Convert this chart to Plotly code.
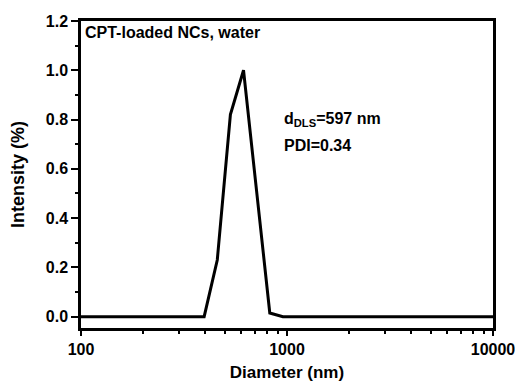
import plotly.graph_objects as go

diameter_nm = [100, 342.0, 396.1, 458.7, 531.2, 615.1, 712.4, 825.0, 955.4, 1106, 2000, 5000, 10000]
intensity = [0.0, 0.0, 0.0, 0.23, 0.82, 1.0, 0.51, 0.015, 0.0, 0.0, 0.0, 0.0, 0.0]

y_ticks = [0.0, 0.2, 0.4, 0.6, 0.8, 1.0, 1.2]
x_ticks = [100, 1000, 10000]

FONT = "Liberation Sans, Arial, sans-serif"

fig = go.Figure()
fig.add_trace(go.Scatter(x=diameter_nm, y=intensity, mode="lines",
                         line=dict(color="black", width=3), showlegend=False))

# page body has an 8px default margin, so the figure is sized/offset to compensate
fig.update_layout(
    width=515, height=378,
    margin=dict(l=73, r=30, t=13, b=58, autoexpand=False),
    plot_bgcolor="white", paper_bgcolor="white",
    font=dict(family=FONT, color="black"),
    xaxis=dict(type="log", range=[2, 4], tickvals=x_ticks,
               ticktext=[f"<b>{v}</b>" for v in x_ticks],
               showgrid=False, zeroline=False, automargin=False,
               showline=True, linecolor="black", linewidth=2.5, mirror=True,
               ticks="outside", ticklen=5, tickwidth=2, tickcolor="black",
               minor=dict(ticks="outside", ticklen=3, tickwidth=2, tickcolor="black",
                          tickvals=[200, 300, 400, 500, 600, 700, 800, 900,
                                    2000, 3000, 4000, 5000, 6000, 7000, 8000, 9000]),
               tickfont=dict(family=FONT, size=16, color="black"),
               title=dict(text="<b>Diameter (nm)</b>", font=dict(family=FONT, size=17), standoff=10)),
    yaxis=dict(range=[-0.046, 1.2], tickvals=y_ticks,
               ticktext=[f"<b>{v:.1f}</b>" for v in y_ticks],
               showgrid=False, zeroline=False, automargin=False,
               showline=True, linecolor="black", linewidth=2.5, mirror=True,
               ticks="outside", ticklen=7, tickwidth=2, tickcolor="black",
               minor=dict(ticks="outside", ticklen=3, tickwidth=2, tickcolor="black",
                          tickvals=[0.1, 0.3, 0.5, 0.7, 0.9, 1.1]),
               tickfont=dict(family=FONT, size=16, color="black"),
               title=dict(text="<b>Intensity (%)</b>", font=dict(family=FONT, size=18), standoff=22)),
    annotations=[
        dict(text="<b>CPT-loaded NCs, water</b>", xref="paper", yref="paper",
             x=0.004, y=0.997, xanchor="left", yanchor="top", showarrow=False,
             font=dict(family=FONT, size=16, color="black")),
        dict(text="<b>d<sub>DLS</sub>=597 nm</b>", xref="paper", yref="paper",
             x=0.488, y=0.68, xanchor="left", yanchor="middle", showarrow=False,
             font=dict(family=FONT, size=16, color="black")),
        dict(text="<b>PDI=0.34</b>", xref="paper", yref="paper",
             x=0.488, y=0.595, xanchor="left", yanchor="middle", showarrow=False,
             font=dict(family=FONT, size=16, color="black")),
    ],
)

fig.write_html("out.html")
